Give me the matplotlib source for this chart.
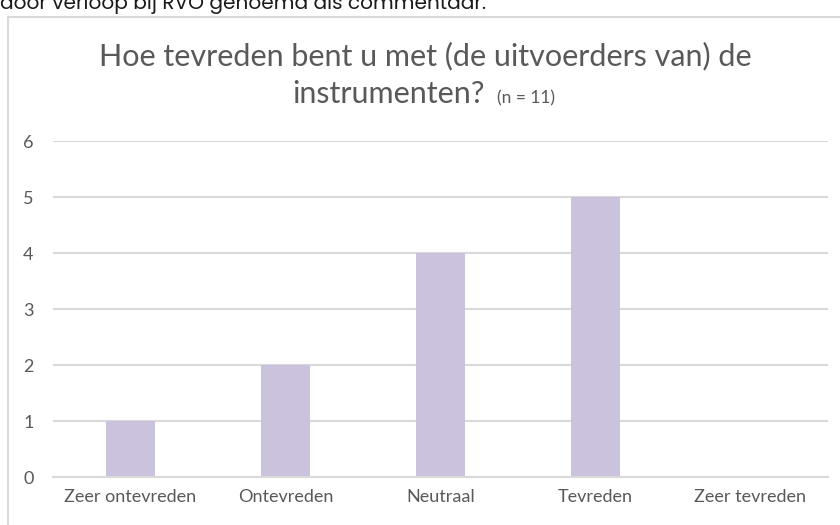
import matplotlib
matplotlib.use("Agg")
import matplotlib.pyplot as plt
from matplotlib.lines import Line2D

categories = ["Zeer ontevreden", "Ontevreden", "Neutraal", "Tevreden", "Zeer tevreden"]
values = [1, 2, 4, 5, 0]
yticks = [0, 1, 2, 3, 4, 5, 6]

W, H = 840, 525
fig = plt.figure(figsize=(W / 100, H / 100), dpi=100)
fig.patch.set_facecolor("white")

txt = "#595959"
grid = "#D9D9D9"
bar_color = "#CBC3DD"
font = ["Lato", "DejaVu Sans"]

# Chart box border (extends beyond the visible area)
fig.add_artist(Line2D([8 / W, 8 / W], [0, 1 - 17 / H], transform=fig.transFigure,
                      color=grid, lw=1.5))
fig.add_artist(Line2D([8 / W, 1], [1 - 17 / H, 1 - 17 / H], transform=fig.transFigure,
                      color=grid, lw=1.5))

# Clipped text from the surrounding document
fig.text(0 / W, 1 - 9 / H, "door verloop bij RVO genoemd als commentaar.",
         ha="left", va="baseline", fontsize=14.5, color="#1a1a1a",
         family=["Poppins", "Lato", "DejaVu Sans"])

ax = fig.add_axes([53 / W, 48 / H, (828 - 53) / W, 336 / H])
x = list(range(len(categories)))
ax.bar(x, values, width=0.31, color=bar_color, zorder=3)
ax.set_xlim(-0.5, len(categories) - 0.5)
ax.set_ylim(0, 6)
ax.set_yticks(yticks)
ax.set_yticklabels([str(v) for v in yticks])
ax.set_xticks(x)
ax.set_xticklabels(categories)
for s in ["top", "right", "left"]:
    ax.spines[s].set_visible(False)
ax.spines["bottom"].set_color(grid)
ax.spines["bottom"].set_linewidth(1.5)
ax.spines["bottom"].set_zorder(4)
ax.yaxis.grid(True, color=grid, linewidth=1.5, zorder=0)
ax.tick_params(axis="both", length=0, colors=txt, labelsize=13)
ax.tick_params(axis="y", pad=14)
ax.tick_params(axis="x", pad=9)
for lab in ax.get_xticklabels() + ax.get_yticklabels():
    lab.set_family(font)
    lab.set_color(txt)

# Title
fig.text(425 / W, 1 - 65 / H, "Hoe tevreden bent u met (de uitvoerders van) de",
         ha="center", va="baseline", fontsize=22, color=txt, family=font)
fig.text(292 / W, 1 - 103 / H, "instrumenten?", ha="left", va="baseline",
         fontsize=22, color=txt, family=font)
fig.text(497 / W, 1 - 103 / H, "(n = 11)", ha="left", va="baseline",
         fontsize=12.5, color=txt, family=font)

fig.savefig("out.png", dpi=100, facecolor="white")
